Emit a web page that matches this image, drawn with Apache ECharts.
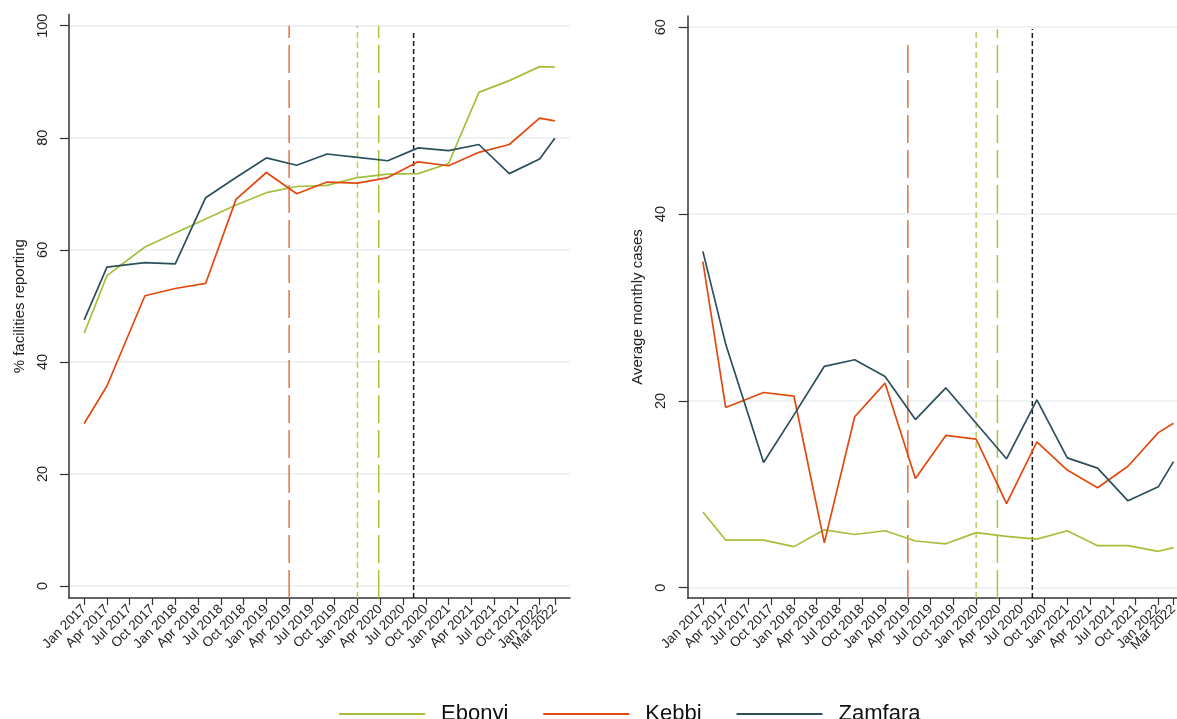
<!DOCTYPE html>
<html>
<head>
<meta charset="utf-8">
<script src="https://cdn.jsdelivr.net/npm/echarts@6/dist/echarts.min.js"></script>
<style>
  html, body { margin: 0; padding: 0; background: #fff; }
  #chart { width: 1177px; height: 719px; }
</style>
</head>
<body>
<div id="chart"></div>
<script>
// months since Jan 2017
const tickMonths = [0, 3, 6, 9, 12, 15, 18, 21, 24, 27, 30, 33, 36, 39, 42, 45, 48, 51, 54, 57, 60, 62];
const tickLabels = ['Jan 2017', 'Apr 2017', 'Jul 2017', 'Oct 2017', 'Jan 2018', 'Apr 2018', 'Jul 2018', 'Oct 2018',
  'Jan 2019', 'Apr 2019', 'Jul 2019', 'Oct 2019', 'Jan 2020', 'Apr 2020', 'Jul 2020', 'Oct 2020',
  'Jan 2021', 'Apr 2021', 'Jul 2021', 'Oct 2021', 'Jan 2022', 'Mar 2022'];
const pointMonths = [0, 3, 8, 12, 16, 20, 24, 28, 32, 36, 40, 44, 48, 52, 56, 60, 62];

// % facilities reporting
const reportEbonyi = [45.1, 55.4, 60.5, 63.0, 65.5, 68.0, 70.2, 71.3, 71.5, 72.9, 73.5, 73.6, 75.4, 88.1, 90.2, 92.7, 92.6];
const reportKebbi = [29.0, 35.7, 51.8, 53.1, 54.0, 69.0, 73.8, 70.0, 72.1, 71.9, 72.9, 75.7, 75.0, 77.4, 78.8, 83.5, 83.0];
const reportZamfara = [47.5, 56.9, 57.7, 57.5, 69.3, 72.9, 76.4, 75.1, 77.1, 76.5, 75.9, 78.2, 77.7, 78.8, 73.6, 76.2, 79.9];

// average monthly cases
const casesEbonyi = [8.1, 5.1, 5.1, 4.4, 6.2, 5.7, 6.1, 5.0, 4.7, 5.9, 5.5, 5.2, 6.1, 4.5, 4.5, 3.9, 4.3];
const casesKebbi = [34.9, 19.3, 20.9, 20.5, 4.8, 18.3, 21.9, 11.7, 16.3, 15.9, 9.0, 15.6, 12.6, 10.7, 13.0, 16.6, 17.6];
const casesZamfara = [36.0, 26.1, 13.4, 18.5, 23.7, 24.4, 22.6, 18.0, 21.4, 17.6, 13.8, 20.1, 13.9, 12.8, 9.3, 10.8, 13.5];

// intervention dates (months since Jan 2017) and how high each line reaches
const eventMonths = [27, 36, 38.8, 43.4];
const eventTopLeft = [100, 100, 100, 99];
const eventTopRight = [58.8, 59.8, 59.8, 59.8];

const leftTicks = [0, 20, 40, 60, 80, 100];
const rightTicks = [0, 20, 40, 60];

const colors = { Ebonyi: '#a3c03b', Kebbi: '#e1490f', Zamfara: '#2b4f5b' };
const eventStyles = [
  { color: '#e8703f', type: [28, 7] },
  { color: '#b7cf55', type: [6, 4] },
  { color: '#a9c43a', type: [28, 7] },
  { color: '#1a1a1a', type: [5, 3] }
];

const font = 'Liberation Sans, Arial, sans-serif';
const leftMin = -2.14, leftMax = 102;
const rightMin = -1.1, rightMax = 61.2;

const zip = (ys) => pointMonths.map((m, i) => [m, ys[i]]);
const labelOf = (v) => tickLabels[tickMonths.indexOf(v)] || '';

const xLabelStyle = {
  rotate: 45,
  margin: 9,
  fontSize: 13.5,
  fontFamily: font,
  color: '#222',
  formatter: labelOf
};

// main axis: line, all ticks, labels up to Jan 2022
const xAxisBase = (gridIndex) => ({
  gridIndex,
  type: 'value',
  min: -2,
  max: 64,
  axisLine: { show: true, onZero: false, lineStyle: { color: '#333', width: 1.5 } },
  axisTick: { show: true, customValues: tickMonths, length: 7, lineStyle: { color: '#333', width: 1.2 } },
  axisLabel: { ...xLabelStyle, customValues: tickMonths.slice(0, -1) },
  splitLine: { show: false }
});

// overlay axis so the crowded "Mar 2022" label is not dropped
const xAxisLast = (gridIndex) => ({
  gridIndex,
  type: 'value',
  min: -2,
  max: 64,
  position: 'bottom',
  axisLine: { show: false, onZero: false },
  axisTick: { show: false },
  axisLabel: { ...xLabelStyle, customValues: tickMonths.slice(-1) },
  splitLine: { show: false }
});

const yAxisBase = (gridIndex, name, min, max, ticks) => ({
  gridIndex,
  type: 'value',
  min,
  max,
  name,
  nameLocation: 'middle',
  nameGap: 42,
  nameTextStyle: { fontSize: 15, fontFamily: font, color: '#222' },
  axisLine: { show: true, onZero: false, lineStyle: { color: '#333', width: 1.5 } },
  axisTick: { show: true, customValues: ticks, length: 9, lineStyle: { color: '#333', width: 1.2 } },
  axisLabel: { customValues: ticks, rotate: 90, margin: 19, fontSize: 14.5, fontFamily: font, color: '#222' },
  splitLine: { show: true, lineStyle: { color: '#e7eff1', width: 1.5 } }
});

const dataSeries = (name, ys, idx) => ({
  name,
  type: 'line',
  xAxisIndex: idx,
  yAxisIndex: idx,
  data: zip(ys),
  symbol: 'none',
  lineStyle: { color: colors[name], width: 1.7 },
  itemStyle: { color: colors[name] },
  z: 3
});

const eventSeries = (idx, min, tops) => eventMonths.map((m, i) => ({
  type: 'line',
  xAxisIndex: idx,
  yAxisIndex: idx,
  data: [[m, min], [m, tops[i]]],
  symbol: 'none',
  silent: true,
  lineStyle: { color: eventStyles[i].color, type: eventStyles[i].type, width: 1.5 },
  z: 2
}));

const chart = echarts.init(document.getElementById('chart'));
chart.setOption({
  animation: false,
  backgroundColor: '#fff',
  textStyle: { fontFamily: font },
  legend: {
    data: ['Ebonyi', 'Kebbi', 'Zamfara'],
    left: 334,
    top: 698,
    icon: 'rect',
    itemWidth: 86,
    itemHeight: 2,
    itemGap: 35,
    textStyle: { fontSize: 22, fontFamily: font, color: '#111', padding: [0, 0, 0, 11], lineHeight: 22 }
  },
  grid: [
    { left: 69, top: 14.5, width: 501, height: 583.5, outerBoundsMode: 'none', containLabel: false },
    { left: 687.7, top: 16, width: 501, height: 582, outerBoundsMode: 'none', containLabel: false }
  ],
  xAxis: [xAxisBase(0), xAxisBase(1), xAxisLast(0), xAxisLast(1)],
  yAxis: [
    yAxisBase(0, '% facilities reporting', leftMin, leftMax, leftTicks),
    yAxisBase(1, 'Average monthly cases', rightMin, rightMax, rightTicks)
  ],
  series: [
    ...eventSeries(0, leftMin, eventTopLeft),
    ...eventSeries(1, rightMin, eventTopRight),
    dataSeries('Ebonyi', reportEbonyi, 0),
    dataSeries('Kebbi', reportKebbi, 0),
    dataSeries('Zamfara', reportZamfara, 0),
    dataSeries('Ebonyi', casesEbonyi, 1),
    dataSeries('Kebbi', casesKebbi, 1),
    dataSeries('Zamfara', casesZamfara, 1)
  ]
});
</script>
</body>
</html>
